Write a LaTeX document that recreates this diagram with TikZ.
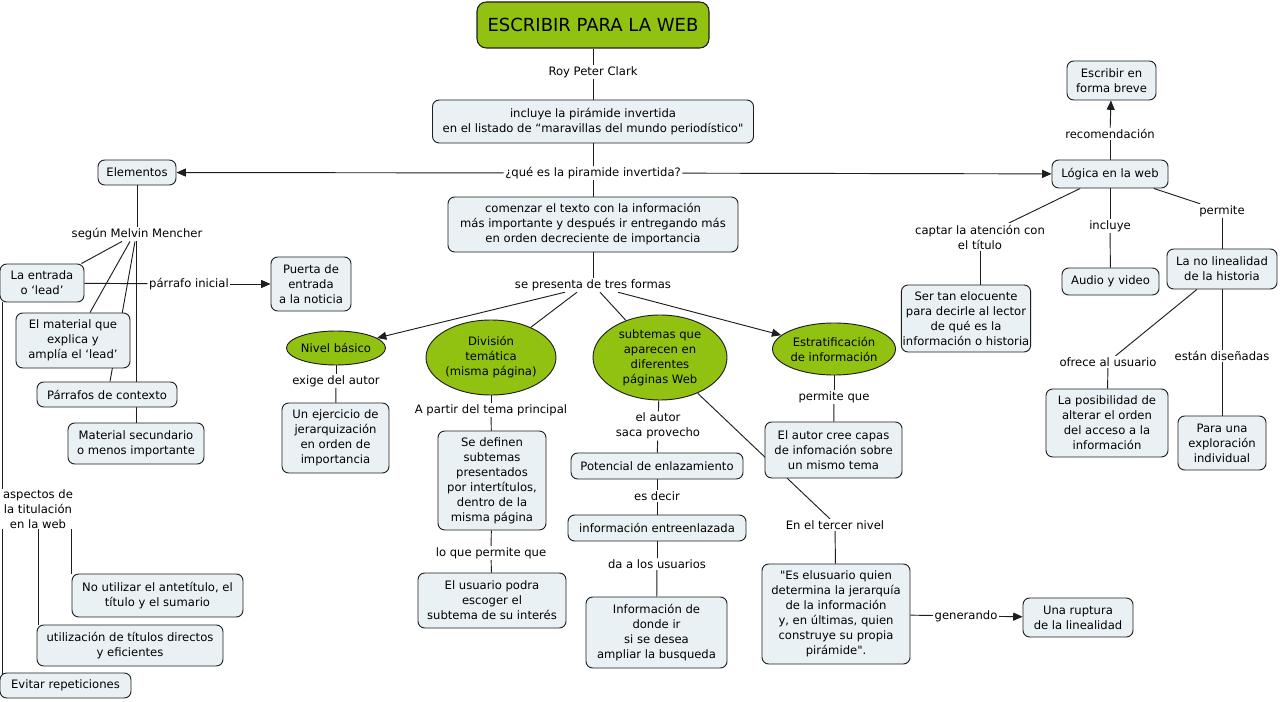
\documentclass[tikz,border=0pt]{standalone}
\usepackage{fontspec}
\setmainfont{DejaVu Sans}
\usetikzlibrary{arrows.meta,shapes.geometric}
\pgfdeclarelayer{back}
\pgfdeclarelayer{bg}
\pgfsetlayers{back,bg,main}
\definecolor{boxfill}{HTML}{EAF1F4}
\definecolor{cmgreen}{HTML}{92C211}
\definecolor{edgecol}{HTML}{1E1E1E}
\newdimen\pxu \pxu=0.75pt
\newcommand\fs{\fontsize{8.7pt}{11.25pt}\selectfont}
\newcommand\sq{\XeTeXglyph\XeTeXcharglyph"22\relax}
\tikzset{
  sz/.style 2 args={minimum width=#1\pxu, minimum height=#2\pxu},
  box/.style={draw=edgecol, line width=0.7pt, rounded corners=5pt, fill=boxfill, align=center, inner sep=1pt, font=\fs},
  ell/.style={ellipse, draw=edgecol, line width=0.7pt, fill=cmgreen, align=center, inner sep=0pt, font=\fs},
  titlebox/.style={draw=edgecol, line width=0.8pt, rounded corners=7pt, fill=cmgreen, align=center, font=\fontsize{13.5pt}{16pt}\selectfont},
  lab/.style={fill=white, inner sep=1pt, align=center, font=\fs},
  con/.style={draw=edgecol, line width=0.7pt},
  arr/.style={con, -{Triangle[length=7pt,width=6pt]}}
}
\begin{document}
\begin{tikzpicture}[x=0.75pt,y=-0.75pt]
\begin{pgfonlayer}{back}
\fill[white] (0,0) rectangle (1280,702);
\end{pgfonlayer}
\useasboundingbox (0,0) rectangle (1280,702);
% centre
\node[titlebox, sz={232}{46}] (title) at (593,25) {ESCRIBIR PARA LA WEB};
\node[lab] (roy) at (593,72) {Roy Peter Clark};
\node[box, sz={321}{43}] (incl) at (593,121.5) {incluye la pirámide invertida\\en el listado de “maravillas del mundo periodístico\sq};
\node[lab] (que) at (593,173) {¿qué es la piramide invertida?};
\node[box, sz={78}{25}] (elem) at (137,172.5) {Elementos};
\node[box, sz={116}{28}] (logica) at (1110,174) {Lógica en la web};
\node[box, sz={290}{55}] (comenzar) at (593,224.5) {comenzar el texto con la información\\más importante y después ir entregando más\\en orden decreciente de importancia};
\node[lab] (tres) at (593,285) {se presenta de tres formas};
\node[ell, sz={92}{34}] (nivel) at (336,348) {Nivel básico};
\node[ell, sz={130}{75}] (division) at (491,357.5) {División\\temática\\(misma página)};
\node[ell, sz={134}{85}] (subtemas) at (660,357.5) {subtemas que\\aparecen en\\diferentes\\páginas Web};
\node[ell, sz={114}{52}] (estrat) at (834,349) {Estratificación\\de información};
% nivel basico
\node[lab] (exige) at (336,381) {exige del autor};
\node[box, sz={107}{70}] (ejercicio) at (335.5,438) {Un ejercicio de\\jerarquización\\en orden de\\importancia};
% division tematica
\node[lab] (apartir) at (491,410) {A partir del tema principal};
\node[box, sz={108}{99}] (sedefinen) at (492,480.5) {Se definen\\subtemas\\presentados\\por intertítulos,\\dentro de la\\misma página};
\node[lab] (lopermite) at (491,553) {lo que permite que};
\node[box, sz={148}{55}] (usuario) at (492,600.5) {El usuario podra\\escoger el\\subtema de su interés};
% subtemas
\node[lab] (autorsaca) at (658,426) {el autor\\saca provecho};
\node[box, sz={172}{26}] (potencial) at (657,466) {Potencial de enlazamiento};
\node[lab] (esdecir) at (657,496) {es decir};
\node[box, sz={178}{26}] (entreenl) at (657,528) {información entreenlazada};
\node[lab] (dausuarios) at (657,564) {da a los usuarios};
\node[box, sz={141}{71}] (donde) at (656.5,632.5) {Información de\\donde ir\\si se desea\\ampliar la busqueda};
% estratificacion
\node[lab] (permiteque) at (834,397) {permite que};
\node[box, sz={137}{56}] (capas) at (833.5,450) {El autor cree capas\\de infomación sobre\\un mismo tema};
\node[lab] (tercer) at (835,525) {En el tercer nivel};
\node[box, sz={148}{100}] (elusuario) at (836,614) {\sq Es elusuario quien\\determina la jerarquía\\de la información\\y, en últimas, quien\\construye su propia\\pirámide\sq.};
\node[lab] (generando) at (966,616) {generando};
\node[box, sz={110}{39}] (ruptura) at (1078,617.5) {Una ruptura\\de la linealidad};
% right side
\node[lab] (recom) at (1110,134) {recomendación};
\node[box, sz={89}{39}] (breve) at (1111.5,80.5) {Escribir en\\forma breve};
\node[lab] (captar) at (980,237) {captar la atención con\\el título};
\node[box, sz={118}{67}] (elocuente) at (966,318.5) {Ser tan elocuente\\para decirle al lector\\de qué es la\\información o historia};
\node[lab] (incluye) at (1110,226) {incluye};
\node[box, sz={97}{27}] (audio) at (1110.5,281.5) {Audio y video};
\node[lab] (permite) at (1222,211) {permite};
\node[box, sz={110}{40}] (nolineal) at (1222,269) {La no linealidad\\de la historia};
\node[lab] (ofrece) at (1108,362) {ofrece al usuario};
\node[box, sz={122}{68}] (posibilidad) at (1107,423) {La posibilidad de\\alterar el orden\\del acceso a la\\información};
\node[lab] (disenadas) at (1222,356) {están diseñadas};
\node[box, sz={88}{54}] (exploracion) at (1222,443) {Para una\\exploración\\individual};
% left side
\node[lab] (mencher) at (137,234) {según Melvin Mencher};
\node[box, sz={84}{38}] (entrada) at (42,283) {La entrada\\o ‘lead’};
\node[lab] (pinicial) at (189,284) {párrafo inicial};
\node[box, sz={80}{54}] (puerta) at (311,284) {Puerta de\\entrada\\a la noticia};
\node[box, sz={114}{55}] (material) at (73,340.5) {El material que\\explica y\\amplía el ‘lead’};
\node[box, sz={140}{25}] (parrafos) at (107,394.5) {Párrafos de contexto};
\node[box, sz={136}{41}] (secundario) at (136,443.5) {Material secundario\\o menos importante};
\node[lab, inner sep=0.5pt] (aspectos) at (38,509) {aspectos de\\la titulación\\en la web};
\node[box, sz={171}{43}] (noutil) at (157.5,595.5) {No utilizar el antetítulo, el\\título y el sumario};
\node[box, sz={186}{41}] (utiliz) at (130,645.5) {utilización de títulos directos\\y eficientes};
\node[box, sz={131}{25}] (evitar) at (65.5,685.5) {Evitar repeticiones};

\begin{pgfonlayer}{bg}
\draw[con] (title) -- (roy);
\draw[con] (roy) -- (incl);
\draw[con] (incl) -- (que);
\draw[con] (que) -- (comenzar);
\draw[arr] (que) -- (elem);
\draw[arr] (que) -- (logica);
\draw[con] (comenzar) -- (tres);
\draw[arr] ([xshift=-28\pxu]tres.south) -- (nivel);
\draw[con] ([xshift=-16\pxu]tres.south) -- (division);
\draw[con] ([xshift=7\pxu]tres.south) -- (subtemas);
\draw[arr] ([xshift=25\pxu]tres.south) -- (estrat);
\draw[con] (nivel) -- (exige);
\draw[con] (exige) -- (ejercicio);
\draw[con] (division) -- (apartir);
\draw[con] (apartir) -- (sedefinen);
\draw[con] (sedefinen) -- (lopermite);
\draw[con] (lopermite) -- (usuario);
\draw[con] (subtemas) -- (autorsaca);
\draw[con] (autorsaca) -- (potencial);
\draw[con] (potencial) -- (esdecir);
\draw[con] (esdecir) -- (entreenl);
\draw[con] (entreenl) -- (dausuarios);
\draw[con] (dausuarios) -- (donde);
\draw[con] (estrat) -- (permiteque);
\draw[con] (permiteque) -- (capas);
\draw[con] (subtemas) -- ([xshift=-5\pxu]tercer.north);
\draw[con] (tercer) -- (elusuario);
\draw[con] (elusuario) -- (generando);
\draw[arr] (generando) -- (ruptura);
\draw[con] (logica) -- (recom);
\draw[arr] (recom) -- (breve);
\draw[con] (logica) -- (captar);
\draw[con] (captar.south) -- (captar.south |- elocuente.north);
\draw[con] (logica) -- (incluye);
\draw[con] (incluye) -- (audio);
\draw[con] (logica) -- (permite);
\draw[con] (permite) -- (nolineal);
\draw[con] (nolineal) -- (ofrece);
\draw[con] (ofrece) -- (posibilidad);
\draw[con] (nolineal) -- (disenadas);
\draw[con] (disenadas) -- (exploracion);
\draw[con] (elem) -- (mencher);
\draw[con] ([xshift=-15\pxu]mencher.south) -- ([xshift=-3\pxu]entrada.north east);
\draw[con] ([xshift=-7\pxu]mencher.south) -- ([xshift=17\pxu]material.north);
\draw[con] ([xshift=-2\pxu]mencher.south) -- ([xshift=3\pxu]parrafos.north);
\draw[con] (mencher.south -| secundario.north) -- (secundario.north);
\draw[con] (entrada) -- (pinicial);
\draw[arr] (pinicial) -- (puerta);
\draw[con] ([xshift=3\pxu]entrada.south west) -- ([xshift=3\pxu]entrada.south west |- aspectos.north);
\draw[con] ([xshift=3\pxu]evitar.north west |- aspectos.south) -- ([xshift=3\pxu,yshift=-2\pxu]evitar.north west);
\draw[con] (aspectos.south) -- (aspectos.south |- utiliz.north);
\draw[con] ([xshift=-2\pxu]aspectos.south east) -- ([xshift=-2\pxu]aspectos.south east |- noutil.north);
\end{pgfonlayer}
\end{tikzpicture}
\end{document}
